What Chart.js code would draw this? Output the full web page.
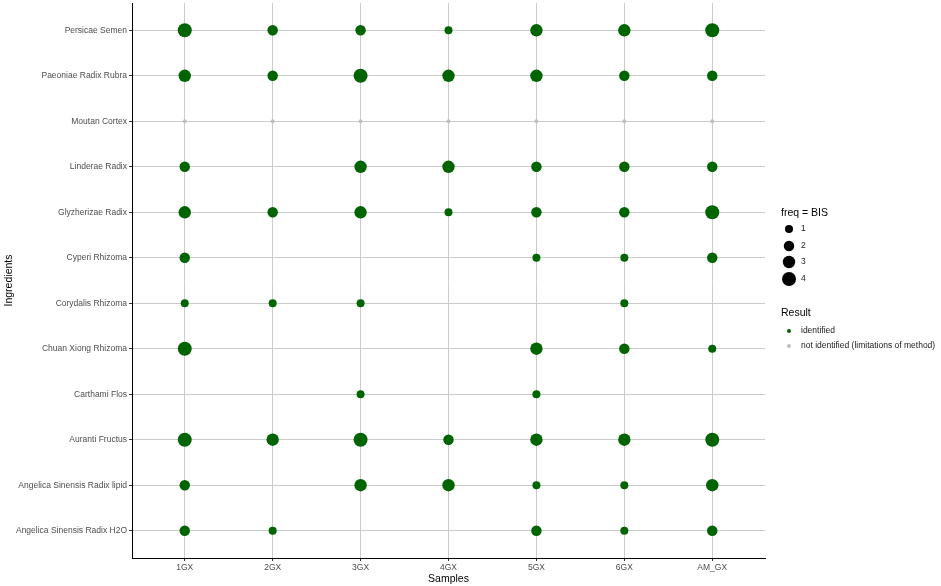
<!DOCTYPE html>
<html>
<head>
<meta charset="utf-8">
<script src="https://cdn.jsdelivr.net/npm/chart.js@4"></script>
<style>
  html, body { margin: 0; padding: 0; background: #fff; }
  #wrap { width: 941px; height: 586px; position: relative; }
</style>
</head>
<body>
<div id="wrap"><canvas id="dotChart"></canvas></div>
<script>
// ================== DATA ==================
const samples = ["1GX", "2GX", "3GX", "4GX", "5GX", "6GX", "AM_GX"];
const ingredients = [
  "Persicae Semen",
  "Paeoniae Radix Rubra",
  "Moutan Cortex",
  "Linderae Radix",
  "Glyzherizae Radix",
  "Cyperi Rhizoma",
  "Corydalis Rhizoma",
  "Chuan Xiong Rhizoma",
  "Carthami Flos",
  "Auranti Fructus",
  "Angelica Sinensis Radix lipid",
  "Angelica Sinensis Radix H2O",
];

// freq = BIS per sample (null = not found)
const persicae    = [4, 2, 2, 1, 3, 3, 4];
const paeoniae    = [3, 2, 4, 3, 3, 2, 2];
const moutan      = [null, null, null, null, null, null, null];
const linderae    = [2, null, 3, 3, 2, 2, 2];
const glyzherizae = [3, 2, 3, 1, 2, 2, 4];
const cyperi      = [2, null, null, null, 1, 1, 2];
const corydalis   = [1, 1, 1, null, null, 1, null];
const chuanXiong  = [4, null, null, null, 3, 2, 1];
const carthami    = [null, null, 1, null, 1, null, null];
const auranti     = [4, 3, 4, 2, 3, 3, 4];
const angelicaLip = [2, null, 3, 3, 1, 1, 3];
const angelicaH2O = [2, 1, null, null, 2, 1, 2];
const freqRows = [persicae, paeoniae, moutan, linderae, glyzherizae, cyperi,
  corydalis, chuanXiong, carthami, auranti, angelicaLip, angelicaH2O];

// rows where the method could not identify the ingredient
const notIdentified = ["Moutan Cortex"];
const sizeBreaks = [1, 2, 3, 4];

// ================== STYLE ==================
const FONT = "'Liberation Sans', Arial, sans-serif";
const GREEN = "#006400";
const GREY = "#bebebe";
const radiusFor = (v) => 1 + 3 * Math.sqrt(v);
const lastRow = ingredients.length - 1;

// ================== BUILD POINTS ==================
const identifiedPts = [];
freqRows.forEach((row, i) => {
  row.forEach((v, j) => {
    if (v != null) identifiedPts.push({ x: j, y: lastRow - i, r: radiusFor(v) });
  });
});
const notIdentifiedPts = [];
notIdentified.forEach((name) => {
  const i = ingredients.indexOf(name);
  samples.forEach((s, j) => notIdentifiedPts.push({ x: j, y: lastRow - i, r: 2 }));
});

// ================== LEGEND PLUGIN ==================
const sideLegend = {
  id: "sideLegend",
  afterDraw(chart) {
    const ctx = chart.ctx;
    ctx.save();
    ctx.textBaseline = "middle";
    ctx.textAlign = "left";
    ctx.fillStyle = "#000";
    ctx.font = `10.5px ${FONT}`;
    ctx.fillText("freq = BIS", 781, 213);
    const ys = [229, 246, 262, 279];
    sizeBreaks.forEach((b, k) => {
      ctx.fillStyle = "#000";
      ctx.beginPath();
      ctx.arc(789, ys[k], radiusFor(b), 0, Math.PI * 2);
      ctx.fill();
      ctx.font = `8.5px ${FONT}`;
      ctx.fillStyle = "#1a1a1a";
      ctx.fillText(String(b), 801, ys[k]);
    });

    ctx.fillStyle = "#000";
    ctx.font = `10.5px ${FONT}`;
    ctx.fillText("Result", 781, 313);
    [[GREEN, "identified", 331], [GREY, "not identified (limitations of method)", 346]].forEach(([c, t, y]) => {
      ctx.fillStyle = c;
      ctx.beginPath();
      ctx.arc(789, y, 2, 0, Math.PI * 2);
      ctx.fill();
      ctx.fillStyle = "#1a1a1a";
      ctx.font = `8.5px ${FONT}`;
      ctx.fillText(t, 801, y);
    });
    ctx.restore();
  },
};

// ================== CHART ==================
const ctx = document.getElementById("dotChart").getContext("2d");
new Chart(ctx, {
  type: "bubble",
  data: {
    datasets: [
      { label: "identified", data: identifiedPts, backgroundColor: GREEN, borderWidth: 0, hoverRadius: 0 },
      { label: "not identified", data: notIdentifiedPts, backgroundColor: GREY, borderWidth: 0, hoverRadius: 0 },
    ],
  },
  options: {
    responsive: true,
    maintainAspectRatio: false,
    animation: false,
    events: [],
    layout: { autoPadding: false, padding: { top: 3, right: 176, bottom: 0, left: 0 } },
    plugins: { legend: { display: false }, tooltip: { enabled: false } },
    scales: {
      x: {
        type: "linear",
        min: -0.6,
        max: samples.length - 0.4,
        afterBuildTicks: (s) => { s.ticks = samples.map((_, i) => ({ value: i })); },
        afterFit: (s) => { s.height = 28; s.paddingLeft = 0; s.paddingRight = 0; },
        ticks: {
          callback: (v) => samples[v],
          font: { family: FONT, size: 8.5 },
          color: "#4d4d4d",
          padding: 2,
          maxRotation: 0,
          autoSkip: false,
        },
        grid: { color: "#cccccc", lineWidth: 1, tickLength: 3, tickColor: "#333" },
        border: { display: true, color: "#000", width: 1 },
        title: { display: true, text: "Samples", font: { family: FONT, size: 10.5 }, color: "#000", padding: { top: 0, bottom: 1 } },
      },
      y: {
        type: "linear",
        min: -0.6,
        max: lastRow + 0.6,
        afterBuildTicks: (s) => { s.ticks = ingredients.map((_, i) => ({ value: i })); },
        afterFit: (s) => { s.width = 132; s.paddingTop = 0; s.paddingBottom = 0; },
        ticks: {
          callback: (v) => ingredients[lastRow - v],
          font: { family: FONT, size: 8.5 },
          color: "#4d4d4d",
          padding: 2,
          autoSkip: false,
        },
        grid: { color: "#cccccc", lineWidth: 1, tickLength: 3, tickColor: "#333" },
        border: { display: true, color: "#000", width: 1 },
        title: { display: true, text: "Ingredients", font: { family: FONT, size: 10.5 }, color: "#000", padding: { top: 3, bottom: 0 } },
      },
    },
  },
  plugins: [sideLegend],
});
</script>
</body>
</html>
